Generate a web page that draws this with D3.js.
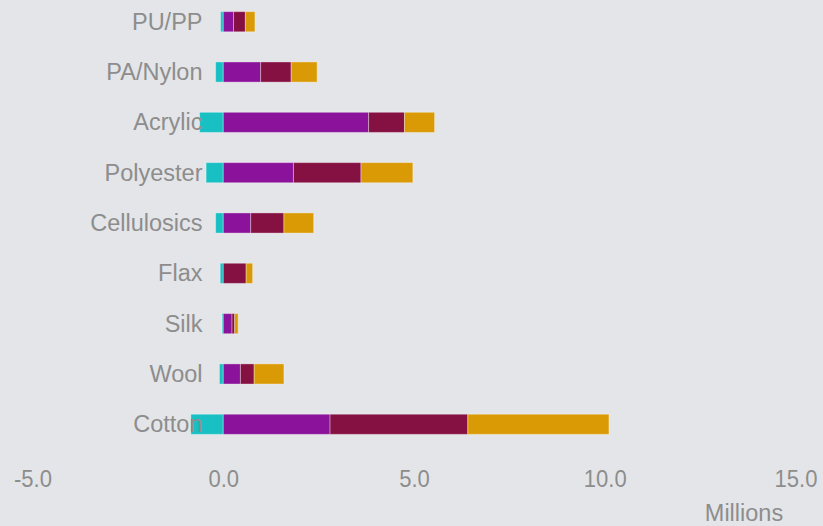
<!DOCTYPE html>
<html>
<head>
<meta charset="utf-8">
<script src="https://cdn.jsdelivr.net/npm/d3@7"></script>
<style>
  html, body { margin: 0; padding: 0; background: #e4e5e8; }
  svg { display: block; }
  text { font-family: "Liberation Sans", Arial, sans-serif; fill: #8d8d8d; }
</style>
</head>
<body>
<svg id="chart" width="823" height="526"></svg>
<script>
const categories = ["PU/PP", "PA/Nylon", "Acrylic", "Polyester", "Cellulosics", "Flax", "Silk", "Wool", "Cotton"];
const negativeSeries = [-0.07, -0.2, -0.62, -0.45, -0.2, -0.08, -0.03, -0.1, -0.85];
const purpleSeries  = [0.27, 0.98, 3.81, 1.84, 0.72, 0.0, 0.23, 0.45, 2.80];
const redSeries     = [0.31, 0.80, 0.94, 1.77, 0.87, 0.60, 0.07, 0.36, 3.61];
const orangeSeries  = [0.25, 0.68, 0.79, 1.36, 0.78, 0.17, 0.09, 0.78, 3.70];
const tickValues = [-5, 0, 5, 10, 15];
const axisTitle = "Millions";

const colors = { neg: "#18bfc3", purple: "#8b139b", red: "#851042", orange: "#d99a06" };

const svg = d3.select("#chart");
const x = d3.scaleLinear().domain([-5, 15]).range([32.5, 795.5]);
const y = d3.scaleBand().domain(categories).range([-3.45, 449.45]).paddingInner(0.6).paddingOuter(0.3);

const rows = categories.map((c, i) => {
  const segs = [];
  segs.push({ key: "neg", x0: negativeSeries[i], x1: 0 });
  let acc = 0;
  [["purple", purpleSeries[i]], ["red", redSeries[i]], ["orange", orangeSeries[i]]].forEach(([k, v]) => {
    segs.push({ key: k, x0: acc, x1: acc + v });
    acc += v;
  });
  return { cat: c, segs };
});

const g = svg.append("g");
rows.forEach(r => {
  g.selectAll(null).data(r.segs.filter(s => s.x1 !== s.x0)).enter().append("rect")
    .attr("x", s => x(Math.min(s.x0, s.x1)))
    .attr("width", s => Math.abs(x(s.x1) - x(s.x0)))
    .attr("y", y(r.cat))
    .attr("height", y.bandwidth())
    .attr("fill", s => colors[s.key])
    .attr("stroke", "rgba(255,255,255,0.35)")
    .attr("stroke-width", 1);
});

// category labels (drawn on top)
svg.append("g").selectAll("text").data(categories).enter().append("text")
  .attr("x", 202.5)
  .attr("y", d => y(d) + y.bandwidth() / 2 + 8)
  .attr("text-anchor", "end")
  .style("font-size", "23.5px")
  .text(d => d);

// x axis
const fmt = d => d3.format(".1f")(d).replace("\u2212", "-");
const axis = d3.axisBottom(x).tickValues(tickValues).tickFormat(fmt).tickSize(0).tickPadding(0);
const ax = svg.append("g").attr("transform", "translate(0,469)").call(axis);
ax.select(".domain").remove();
ax.selectAll("text")
  .attr("dy", null)
  .attr("y", 17.5)
  .attr("transform", "scale(0.9,1)")
  .style("font-size", "24.5px")
  .style("font-family", "'Liberation Sans', Arial, sans-serif")
  .style("fill", "#8d8d8d");

svg.append("text")
  .attr("x", 744)
  .attr("y", 521)
  .attr("text-anchor", "middle")
  .style("font-size", "23.5px")
  .text(axisTitle);
</script>
</body>
</html>
